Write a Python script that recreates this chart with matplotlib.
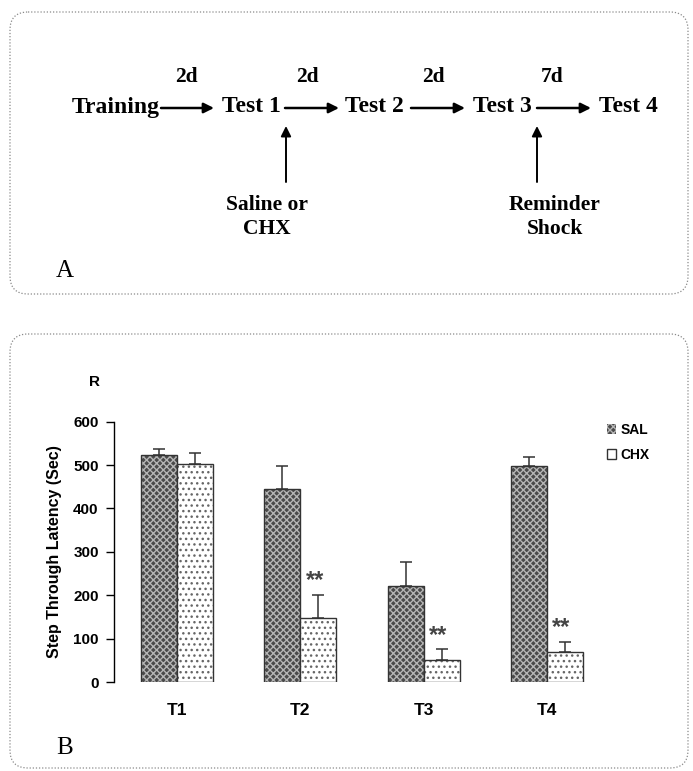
import matplotlib
matplotlib.use("Agg")
import numpy as np
import matplotlib.pyplot as plt
from matplotlib.patches import FancyBboxPatch, Patch

# data
tests = ["T1", "T2", "T3", "T4"]
sal_mean = [523, 446, 222, 499]
sal_err = [14, 53, 55, 19]
chx_mean = [502, 147, 51, 69]
chx_err = [27, 54, 24, 23]
stars = ["", "**", "**", "**"]

stages = ["Training", "Test 1", "Test 2", "Test 3", "Test 4"]
intervals = ["2d", "2d", "2d", "7d"]
treat_1 = "Saline or\nCHX"
treat_2 = "Reminder\nShock"

serif = ["Liberation Serif", "DejaVu Serif"]
narrow = ["Liberation Sans Narrow", "Liberation Sans", "DejaVu Sans"]

W, H = 693, 771
fig = plt.figure(figsize=(W / 100, H / 100), dpi=100)

# overlay in pixel coords for panel A and the frames
ov = fig.add_axes([0, 0, 1, 1], zorder=0)
ov.set_xlim(0, W)
ov.set_ylim(H, 0)
ov.axis("off")
ov.patch.set_alpha(0)

for (x0, y0, x1, y1) in [(10, 12, 688, 294), (10, 334, 688, 768)]:
    ov.add_patch(FancyBboxPatch((x0, y0), x1 - x0, y1 - y0,
                                boxstyle="round,pad=0,rounding_size=18",
                                fill=False, ec="#8a8a8a", lw=0.9, ls=(0, (1, 1.5))))

# timeline
stage_x = [116, 251, 374, 502, 628]
row_y = 107
for s, x in zip(stages, stage_x):
    ov.text(x, row_y, s, fontsize=17, fontweight="bold", family=serif,
            ha="center", va="center")
arrows = [(161, 214), (285, 339), (411, 465), (537, 591)]
label_x = [186, 307, 433, 552]
for (a, b), lab, lx in zip(arrows, intervals, label_x):
    ov.annotate("", xy=(b, row_y + 1), xytext=(a, row_y + 1),
                arrowprops=dict(arrowstyle="-|>", lw=1.8, color="black",
                                mutation_scale=15, shrinkA=0, shrinkB=0))
    ov.text(lx, 77, lab, fontsize=15.5, fontweight="bold",
            family=serif, ha="center", va="center")
for x, lab, tx in [(286, treat_1, 267), (537, treat_2, 555)]:
    ov.annotate("", xy=(x, 126), xytext=(x, 182),
                arrowprops=dict(arrowstyle="-|>", lw=1.4, color="black",
                                mutation_scale=15, shrinkA=0, shrinkB=0))
    ov.text(tx, 217, lab, fontsize=15.5, fontweight="bold", family=serif,
            ha="center", va="center", linespacing=1.3)
ov.text(65, 271, "A", fontsize=18, family=serif, ha="center", va="center")
ov.text(65, 748, "B", fontsize=18, family=serif, ha="center", va="center")
ov.text(94, 382, "R", fontsize=11, fontweight="bold", family=narrow,
        ha="center", va="center")

# panel B bar chart
ax = fig.add_axes([114 / W, 89 / H, (658 - 114) / W, (682 - 421.7) / H], zorder=2)
ax.patch.set_alpha(0)
x = np.arange(len(tests))
w = 0.292

ax.bar(x - w / 2, sal_mean, w, color="#4a4a4a", edgecolor="#b5b5b5",
       hatch="xxxxx", lw=0)
ax.bar(x - w / 2, sal_mean, w, fill=False, edgecolor="#333333", lw=1)
ax.bar(x + w / 2, chx_mean, w, color="white", edgecolor="#666666",
       hatch="...", lw=0)
ax.bar(x + w / 2, chx_mean, w, fill=False, edgecolor="#333333", lw=1)

ax.errorbar(x - w / 2, sal_mean, yerr=[np.zeros(4), sal_err], fmt="none",
            ecolor="#333333", elinewidth=1.1, capsize=4, capthick=1.1)
ax.errorbar(x + w / 2, chx_mean, yerr=[np.zeros(4), chx_err], fmt="none",
            ecolor="#333333", elinewidth=1.1, capsize=4, capthick=1.1)

for i, s in enumerate(stars):
    if s:
        ax.text(x[i] + w / 2 - 0.03, chx_mean[i] + chx_err[i] + 6, s,
                fontsize=17, fontweight="bold", color="#444444",
                ha="center", va="bottom", family=narrow)

ax.set_xlim(-0.51, 3.9)
ax.set_ylim(0, 600)
ax.set_yticks([0, 100, 200, 300, 400, 500, 600])
ax.set_xticks(x)
ax.set_xticklabels(tests, fontsize=12.5, fontweight="bold", family=narrow)
ax.tick_params(axis="x", length=0, pad=15)
ax.tick_params(axis="y", length=6, width=1, pad=5, labelsize=11)
for lab in ax.get_yticklabels():
    lab.set_fontweight("bold")
    lab.set_family(narrow)
for sp in ["top", "right", "bottom"]:
    ax.spines[sp].set_visible(False)
ax.spines["left"].set_linewidth(1)
ax.set_ylabel("Step Through Latency (Sec)", fontsize=11.5, fontweight="bold",
              family=narrow, labelpad=8)

handles = [Patch(facecolor="#4a4a4a", edgecolor="#b5b5b5", hatch="xxxxx", lw=0),
           Patch(facecolor="white", edgecolor="#333333", lw=1)]
ax.legend(handles, ["SAL", "CHX"], loc="upper left",
          bbox_to_anchor=(594 / W, (H - 410) / H), bbox_transform=fig.transFigure,
          frameon=False, handlelength=0.7, handleheight=0.7, handletextpad=0.3,
          labelspacing=0.8, prop=dict(family=narrow, weight="bold", size=10))

fig.savefig("out.png", dpi=100)
